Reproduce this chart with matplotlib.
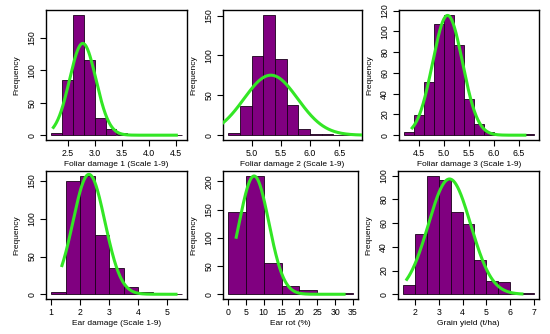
import numpy as np
import matplotlib
matplotlib.use("Agg")
import matplotlib.pyplot as plt

plt.rcParams['font.family'] = ['Liberation Sans', 'DejaVu Sans']

# histogram data (bin edges, counts) and normal-fit parameters
labels = ["Foliar damage 1 (Scale 1-9)", "Foliar damage 2 (Scale 1-9)", "Foliar damage 3 (Scale 1-9)",
          "Ear damage (Scale 1-9)", "Ear rot (%)", "Grain yield (t/ha)"]

fd1_start, fd1_bw = 2.2, 0.2
fd1_counts = [3, 86, 186, 116, 26, 9, 4, 1, 0, 0, 0, 1]
fd2_start, fd2_bw = 4.6, 0.2
fd2_counts = [3, 36, 99, 151, 95, 38, 8, 2, 1, 0, 1]
fd3_start, fd3_bw = 4.2, 0.2
fd3_counts = [3, 19, 51, 107, 116, 87, 35, 11, 3, 1, 0, 0, 1]
ed_start, ed_bw = 1.0, 0.5
ed_counts = [3, 150, 157, 79, 35, 10, 3, 0, 1]
er_start, er_bw = 0, 5
er_counts = [145, 210, 56, 15, 7, 0, 2]
gy_start, gy_bw = 1.5, 0.5
gy_counts = [8, 51, 100, 96, 69, 59, 29, 11, 10, 0, 1]

fit_mean = [2.78, 5.33, 5.07, 2.30, 7.3, 3.45]
fit_sd = [0.243, 0.46, 0.30, 0.55, 4.14, 0.89]
curve_from = [2.24, None, 4.36, 1.37, 2.3, 1.65]
curve_to = [4.5, None, 6.62, 5.3, 32.5, 6.5]

xticks = [[2.5, 3.0, 3.5, 4.0, 4.5], [5.0, 5.5, 6.0, 6.5], [4.5, 5.0, 5.5, 6.0, 6.5],
          [1, 2, 3, 4, 5], [0, 5, 10, 15, 20, 25, 30, 35], [2, 3, 4, 5, 6, 7]]
xtick_fmt = ["{:.1f}", "{:.1f}", "{:.1f}", "{:d}", "{:d}", "{:d}"]
yticks = [[0, 50, 100, 150], [0, 50, 100, 150], [0, 20, 40, 60, 80, 100, 120],
          [0, 50, 100, 150], [0, 50, 100, 150, 200], [0, 20, 40, 60, 80, 100]]

hists = [(fd1_start, fd1_bw, fd1_counts), (fd2_start, fd2_bw, fd2_counts), (fd3_start, fd3_bw, fd3_counts),
         (ed_start, ed_bw, ed_counts), (er_start, er_bw, er_counts), (gy_start, gy_bw, gy_counts)]

W, H = 550, 334
fig = plt.figure(figsize=(W / 100, H / 100), dpi=100)

# axes boxes in pixels: (left, top, right, bottom)
boxes = [(46, 10, 187, 140), (223, 10, 362, 140), (399, 10, 539, 140),
         (46, 171, 187, 299), (223, 171, 358, 299), (398, 171, 539, 299)]

for i in range(6):
    l, t, r, b = boxes[i]
    ax = fig.add_axes([l / W, 1 - b / H, (r - l) / W, (b - t) / H])
    start, bw, counts = hists[i]
    counts = np.array(counts)
    edges = start + bw * np.arange(len(counts) + 1)
    ax.bar(edges[:-1], counts, width=bw, align='edge', color='#800080',
           edgecolor='#1a001a', linewidth=0.6, zorder=2)

    # R-style 4% padding
    xr = edges[-1] - edges[0]
    ax.set_xlim(edges[0] - 0.04 * xr, edges[-1] + 0.04 * xr)
    ymax = counts.max()
    ax.set_ylim(-0.04 * ymax, ymax * 1.04)

    lo = curve_from[i] if curve_from[i] is not None else ax.get_xlim()[0]
    hi = curve_to[i] if curve_to[i] is not None else ax.get_xlim()[1]
    x = np.linspace(lo, hi, 300)
    n = counts.sum()
    y = n * bw / (fit_sd[i] * np.sqrt(2 * np.pi)) * np.exp(-(x - fit_mean[i]) ** 2 / (2 * fit_sd[i] ** 2))
    ax.plot(x, y, color='#33E625', linewidth=2.2, zorder=3)

    ax.set_xticks(xticks[i])
    ax.set_xticklabels([xtick_fmt[i].format(v) for v in xticks[i]])
    ax.set_yticks(yticks[i])
    ax.set_yticklabels([str(v) for v in yticks[i]], rotation=90, va='center')
    ax.tick_params(direction='out', length=4, width=0.8, labelsize=6.3, pad=3)
    ax.tick_params(axis='x', pad=2.5)
    for s in ax.spines.values():
        s.set_linewidth(1.0)
    ax.set_xlabel(labels[i], fontsize=6.0, labelpad=2)
    ax.set_ylabel("Frequency", fontsize=6.0, labelpad=5)

fig.savefig("out.png", dpi=100)
